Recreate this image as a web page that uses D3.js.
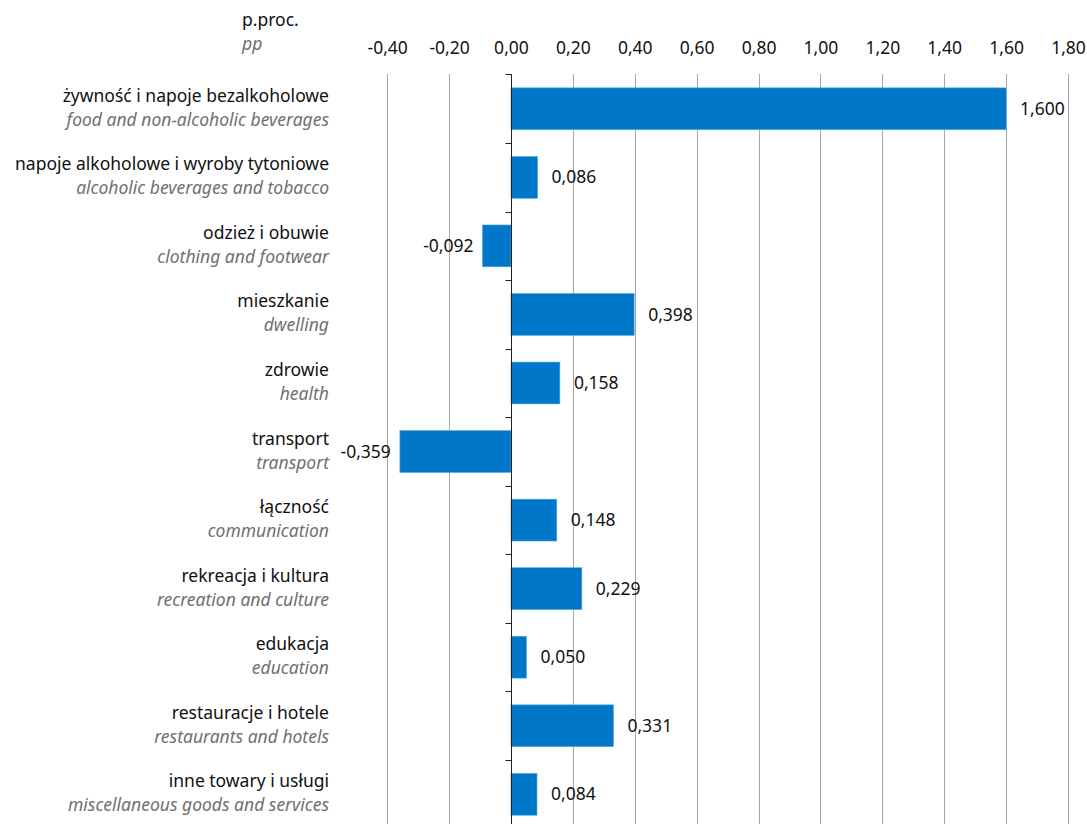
<!DOCTYPE html>
<meta charset="utf-8">
<script src="https://d3js.org/d3.v7.min.js"></script>
<style>
body {
  margin: 0;
  background-color: #ffffff;
}
svg text {
  font-family: "Noto Sans", "Open Sans", sans-serif;
}
.grid line {
  stroke: #a6a6a6;
  stroke-width: 1px;
  shape-rendering: crispEdges;
}
.bar {
  fill: #0077c8;
}
</style>
<body>
  <div id="chart"></div>
</body>
<script>
var categoriesPl = ["żywność i napoje bezalkoholowe", "napoje alkoholowe i wyroby tytoniowe", "odzież i obuwie",
  "mieszkanie", "zdrowie", "transport", "łączność", "rekreacja i kultura", "edukacja",
  "restauracje i hotele", "inne towary i usługi"];
var categoriesEn = ["food and non-alcoholic beverages", "alcoholic beverages and tobacco", "clothing and footwear",
  "dwelling", "health", "transport", "communication", "recreation and culture", "education",
  "restaurants and hotels", "miscellaneous goods and services"];
var values = [1.600, 0.086, -0.092, 0.398, 0.158, -0.359, 0.148, 0.229, 0.050, 0.331, 0.084];
var tickValues = [-0.4, -0.2, 0, 0.2, 0.4, 0.6, 0.8, 1.0, 1.2, 1.4, 1.6, 1.8];

var width = 1087,
    height = 824;

var svg = d3.select("#chart").append("svg")
    .attr("width", width)
    .attr("height", height);

var x = d3.scaleLinear().domain([-0.4, 1.8]).range([387.2, 1068]);
var y = d3.scaleBand().domain(d3.range(categoriesPl.length)).range([74.5, 828.6]);

// comma decimals, plain hyphen for minus
var fmt = function(v, n) { return d3.format("." + n + "f")(v).replace("\u2212", "-").replace(".", ","); };

// vertical grid lines
svg.append("g")
    .attr("class", "grid")
    .selectAll("line")
    .data(tickValues.filter(function(d) { return d !== 0; }))
    .enter().append("line")
    .attr("x1", function(d) { return Math.round(x(d)) + 0.5; })
    .attr("x2", function(d) { return Math.round(x(d)) + 0.5; })
    .attr("y1", 74)
    .attr("y2", height);

// top tick labels
var xAxis = d3.axisTop(x)
    .tickValues(tickValues)
    .tickSize(0)
    .tickPadding(4)
    .tickFormat(function(d) { return fmt(d, 2); });

var gx = svg.append("g")
    .attr("transform", "translate(0,58)")
    .call(xAxis);
gx.select(".domain").remove();
gx.selectAll("text")
    .style("font-size", "17.5px")
    .style("font-family", "'Noto Sans', sans-serif")
    .attr("fill", "#111");

// unit header
svg.append("text")
    .attr("x", 242).attr("y", 26)
    .style("font-size", "17.5px")
    .attr("fill", "#111")
    .text("p.proc.");
svg.append("text")
    .attr("x", 242).attr("y", 50)
    .style("font-size", "17.5px")
    .style("font-style", "italic")
    .attr("fill", "#707070")
    .text("pp");

// bars
var barH = y.bandwidth() * 0.61;
svg.selectAll(".bar")
    .data(values)
    .enter().append("rect")
    .attr("class", "bar")
    .attr("x", function(d) { return x(Math.min(0, d)); })
    .attr("width", function(d) { return Math.abs(x(d) - x(0)); })
    .attr("y", function(d, i) { return y(i) + (y.bandwidth() - barH) / 2; })
    .attr("height", barH)
    .attr("stroke", "#4ea6e0")
    .attr("stroke-width", 0.6);

// zero axis line with category ticks
var x0 = Math.round(x(0)) + 0.5;
svg.append("line")
    .attr("x1", x0).attr("x2", x0)
    .attr("y1", 74).attr("y2", height)
    .attr("stroke", "#222")
    .attr("stroke-width", 1);
var bounds = d3.range(categoriesPl.length).map(function(i) { return y(i); });
svg.selectAll(".ytick")
    .data(bounds)
    .enter().append("line")
    .attr("class", "ytick")
    .attr("x1", x0 - 6).attr("x2", x0)
    .attr("y1", function(d) { return Math.round(d) + 0.5; })
    .attr("y2", function(d) { return Math.round(d) + 0.5; })
    .attr("stroke", "#222")
    .attr("stroke-width", 1);

// value labels
svg.selectAll(".val")
    .data(values)
    .enter().append("text")
    .attr("class", "val")
    .attr("x", function(d) { return d >= 0 ? x(d) + 14 : x(d) - 9; })
    .attr("y", function(d, i) { return y(i) + y.bandwidth() / 2; })
    .attr("dy", "0.35em")
    .attr("text-anchor", function(d) { return d >= 0 ? "start" : "end"; })
    .style("font-size", "17.5px")
    .attr("fill", "#111")
    .text(function(d) { return fmt(d, 3); });

// category labels: Polish above, English below
svg.selectAll(".catPl")
    .data(categoriesPl)
    .enter().append("text")
    .attr("class", "catPl")
    .attr("x", 329)
    .attr("y", function(d, i) { return y(i) + y.bandwidth() / 2 - 7; })
    .attr("text-anchor", "end")
    .style("font-size", "17.5px")
    .attr("fill", "#111")
    .text(function(d) { return d; });
svg.selectAll(".catEn")
    .data(categoriesEn)
    .enter().append("text")
    .attr("class", "catEn")
    .attr("x", 329)
    .attr("y", function(d, i) { return y(i) + y.bandwidth() / 2 + 17; })
    .attr("text-anchor", "end")
    .style("font-size", "17.5px")
    .style("font-style", "italic")
    .attr("fill", "#707070")
    .text(function(d) { return d; });
</script>
